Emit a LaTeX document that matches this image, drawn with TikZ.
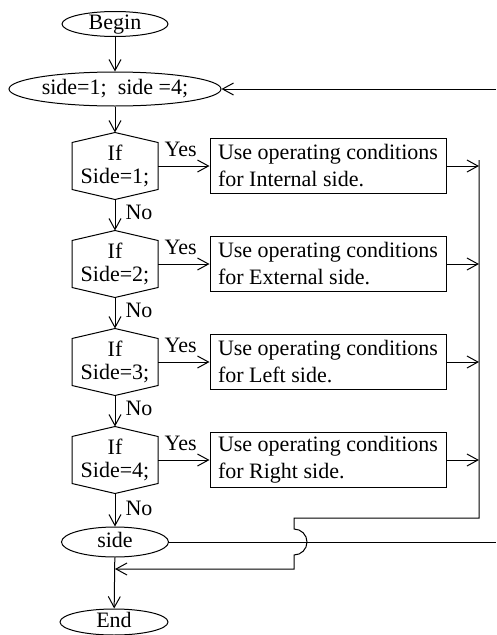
\documentclass[tikz,border=0pt]{standalone}
\usepackage{fontspec}
\setmainfont{Liberation Serif}
\usetikzlibrary{shapes.geometric,arrows.meta}
\begin{document}
\begin{tikzpicture}[x=1pt,y=-1pt,line width=1pt,
  every node/.style={font=\fontsize{22}{26}\selectfont},
  oval/.style={draw,ellipse,inner sep=0pt,text height=13pt,text depth=3pt},
  hexn/.style={minimum width=85pt,minimum height=66pt,inner sep=0pt,align=center,
    font=\fontsize{22}{23}\selectfont},
  actbox/.style={draw,minimum width=236pt,inner xsep=2pt,inner ysep=0pt,minimum height=55pt,
    align=left,font=\fontsize{22}{27}\selectfont},
  arr/.style={-{Straight Barb[length=11pt,width=12pt]}},
  lbl/.style={inner sep=0pt}]
\useasboundingbox (0,0) rectangle (496,635);

\node[oval,minimum width=106pt,minimum height=25pt] (begin) at (115,24) {Begin};
\node[oval,minimum width=212pt,minimum height=34pt] (init) at (115,89) {side=1;~ side =4;};

\node[hexn] (h1) at (115,166) {If\\Side=1;};
\node[hexn] (h2) at (115,264) {If\\Side=2;};
\node[hexn] (h3) at (115,362) {If\\Side=3;};
\node[hexn] (h4) at (115,460) {If\\Side=4;};
\foreach \h in {h1,h2,h3,h4}{
  \draw ([yshift=-10pt]\h.north west) -- (\h.north) -- ([yshift=-10pt]\h.north east)
    -- ([yshift=10pt]\h.south east) -- (\h.south) -- ([yshift=10pt]\h.south west) -- cycle;
}

\node[actbox] (b1) at (328,166) {Use operating conditions\\for Internal side.};
\node[actbox] (b2) at (328,264) {Use operating conditions\\for External side.};
\node[actbox] (b3) at (328,362) {Use operating conditions\\for Left side.};
\node[actbox] (b4) at (328,460) {Use operating conditions\\for Right side.};

\node[oval,minimum width=107pt,minimum height=30pt] (side) at (115,542) {side};
\node[oval,minimum width=108pt,minimum height=26pt] (end) at (114,622) {End};

\draw[arr] (begin) -- (init);
\draw[arr] (init) -- (h1);
\draw[arr] (h1) -- node[lbl,right=10pt,yshift=3pt] {No} (h2);
\draw[arr] (h2) -- node[lbl,right=10pt,yshift=3pt] {No} (h3);
\draw[arr] (h3) -- node[lbl,right=10pt,yshift=3pt] {No} (h4);
\draw[arr] (h4) -- node[lbl,right=10pt,yshift=2pt] {No} (side);
\draw[arr] (side) -- (end);

\foreach \i in {1,2,3,4}{
  \draw[arr] (h\i) -- node[lbl,above=9pt,xshift=-3pt] {Yes} (b\i);
}

\coordinate (railtop) at (479,160);
\coordinate (railbot) at (479,518);
\coordinate (hopa) at (294,518);
\coordinate (hopb) at (294,529);
\coordinate (hopc) at (294,569);
\coordinate (rin) at (496,89);
\coordinate (rout) at (496,542);

\foreach \i in {1,2,3,4}{
  \draw[arr] (b\i.east) -- (b\i.east -| railtop);
}
\draw[arr] (railtop) -- (railbot) -- (hopa) -- (hopb)
  arc[start angle=90,end angle=-90,radius=13pt] -- (hopc) -- (hopc -| side.south);
\draw (side.east) -- (rout);
\draw[arr] (rin) -- (init.east);
\end{tikzpicture}
\end{document}
